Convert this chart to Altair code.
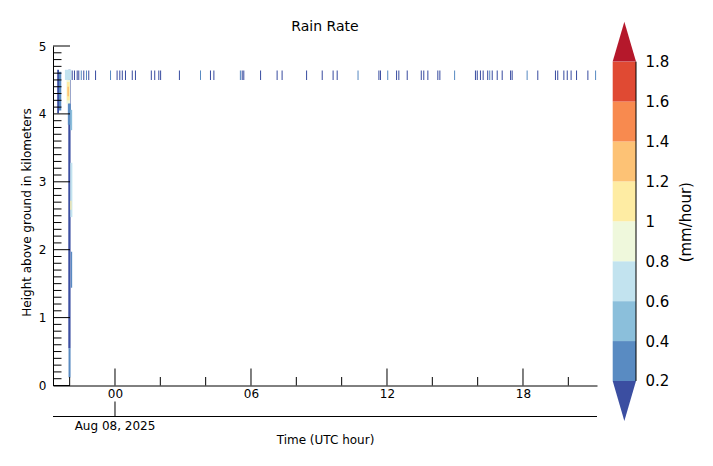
import altair as alt
import pandas as pd

# ---------------- data ----------------
bin_edges = [0.2, 0.4, 0.6, 0.8, 1.0, 1.2, 1.4, 1.6, 1.8]
bin_colors = ["#3b4ea1", "#598bc2", "#8bbfdb", "#c2e3ef", "#eff8dc",
              "#feeca3", "#fdc275", "#f88a4f", "#e04a33", "#b5182b"]
cbar_labels = ["0.2", "0.4", "0.6", "0.8", "1", "1.2", "1.4", "1.6", "1.8"]

x_major = [0, 6, 12, 18]
x_labels = ["00", "06", "12", "18"]
x_minor = [-2, 2, 4, 8, 10, 14, 16, 20]
y_major = [0, 1, 2, 3, 4, 5]
y_minor = [i / 10 for i in range(1, 50) if i % 10]

date_tick = [0]
date_label = ["Aug 08, 2025"]

# short rain echoes near the top of the column (hours, UTC)
tick_times = [-1.91, -1.81, -1.69, -1.62, -1.51, -1.40, -1.28, -1.18, -0.88, -0.22,
              0.07, 0.19, 0.30, 0.44, 0.74, 0.88, 1.58, 1.73, 1.91, 1.99,
              2.82, 3.75, 4.19, 4.34, 5.51, 5.59, 5.66, 6.40, 7.13, 7.35,
              8.43, 9.12, 9.60, 9.78, 10.70, 11.62, 11.69, 12.01, 12.40, 12.50,
              12.87, 13.49, 13.60, 13.78, 14.22, 14.31, 14.96, 15.88, 15.96, 16.10,
              16.22, 16.42, 16.51, 16.62, 16.84, 17.06, 17.43, 17.50, 18.16, 18.63,
              19.41, 19.51, 19.78, 19.93, 20.10, 20.34, 20.84, 21.18]
tick_rates = [0.1, 0.1, 0.1, 0.1, 0.3, 0.1, 0.3, 0.1, 0.1, 0.3,
              0.1, 0.1, 0.1, 0.1, 0.1, 0.1, 0.1, 0.1, 0.1, 0.1,
              0.1, 0.3, 0.1, 0.1, 0.3, 0.1, 0.1, 0.1, 0.1, 0.1,
              0.1, 0.1, 0.1, 0.1, 0.3, 0.1, 0.1, 0.3, 0.1, 0.1,
              0.1, 0.1, 0.1, 0.1, 0.1, 0.1, 0.3, 0.1, 0.1, 0.1,
              0.1, 0.1, 0.3, 0.1, 0.1, 0.1, 0.1, 0.1, 0.3, 0.1,
              0.1, 0.1, 0.1, 0.1, 0.1, 0.1, 0.1, 0.3]
tick_dur = [0.045] * len(tick_times)
tick_z0 = [4.50] * len(tick_times)
tick_z1 = [4.64] * len(tick_times)

# rain column cells at the start of the record
cell_t0 = [-2.55, -2.47, -2.06, -2.05, -2.21, -2.14, -2.12, -2.10, -2.08, -1.97, -1.97, -1.97, -1.95]
cell_t1 = [-2.47, -2.37, -1.96, -1.96, -1.93, -1.98, -2.00, -2.03, -1.95, -1.89, -1.88, -1.92, -1.89]
cell_z0 = [4.01, 4.05, 0.55, 0.12, 4.50, 4.15, 4.20, 4.26, 3.84, 3.76, 2.48, 2.59, 1.44]
cell_z1 = [4.65, 4.62, 4.65, 0.55, 4.65, 4.50, 4.47, 4.40, 4.15, 4.06, 3.28, 2.72, 1.97]
cell_rate = [0.1, 0.3, 0.1, 0.3, 0.7, 0.9, 1.1, 1.3, 0.3, 0.5, 0.7, 1.1, 0.3]

title_text = ["Rain Rate"]

# ---------------- tables ----------------
cells_df = pd.DataFrame({"t0": cell_t0, "t1": cell_t1, "z0": cell_z0, "z1": cell_z1, "rate": cell_rate})
ticks_df = pd.DataFrame({"t0": tick_times,
                         "t1": [t + d for t, d in zip(tick_times, tick_dur)],
                         "z0": tick_z0, "z1": tick_z1, "rate": tick_rates})

W, H = 544, 339.5
FONT = "DejaVu Sans"

xs = alt.Scale(domain=[-2.735, 21.265], nice=False, zero=False)
ys = alt.Scale(domain=[0, 5], nice=False, zero=False)

x_label_expr = "[" + ",".join(f"'{l}'" for l in x_labels) + "][indexof([" + ",".join(str(v) for v in x_major) + "], datum.value)]"
x_axis = alt.Axis(values=x_major, labelExpr=x_label_expr, tickSize=0, labelPadding=3,
                  labelFontSize=12, title="Time (UTC hour)", titleFontSize=12,
                  titleY=54, titleBaseline="middle", grid=False, domainColor="black",
                  labelFlush=False)
y_axis = alt.Axis(values=y_major, format="d", tickSize=0, labelPadding=7, labelFontSize=12,
                  title="Height above ground in kilometers", titleFontSize=12,
                  titleAngle=270, titleX=-26.3, titleY=166, titleAlign="center",
                  titleBaseline="middle", grid=False, domainColor="black", labelFlush=False)


def X(f):
    return alt.X(f, type="quantitative", scale=xs, axis=x_axis)


def Y(f):
    return alt.Y(f, type="quantitative", scale=ys, axis=y_axis)


cscale = alt.Scale(type="threshold", domain=bin_edges, range=bin_colors)
C = alt.Color("rate:Q", scale=cscale, legend=None)

cells = alt.Chart(cells_df).mark_rect(strokeWidth=0).encode(
    x=X("t0"), x2="t1", y=Y("z0"), y2="z1", color=C)
ticks = alt.Chart(ticks_df).mark_rect(strokeWidth=0).encode(
    x=X("t0"), x2="t1", y=Y("z0"), y2="z1", color=C)

xmaj = alt.Chart(pd.DataFrame({"t0": x_major})).mark_rule(color="black", strokeWidth=1).encode(
    x=X("t0"), y=alt.value(H), y2=alt.value(H - 17))
xmin = alt.Chart(pd.DataFrame({"t0": x_minor})).mark_rule(color="black", strokeWidth=1).encode(
    x=X("t0"), y=alt.value(H), y2=alt.value(H - 8.5))
ymaj = alt.Chart(pd.DataFrame({"z0": y_major})).mark_rule(color="black", strokeWidth=1).encode(
    y=Y("z0"), x=alt.value(0), x2=alt.value(17))
ymin = alt.Chart(pd.DataFrame({"z0": y_minor})).mark_rule(color="black", strokeWidth=1).encode(
    y=Y("z0"), x=alt.value(0), x2=alt.value(8.5))

date_df = pd.DataFrame({"t0": date_tick, "label": date_label})
date_line = alt.Chart(date_df).mark_rule(color="black", strokeWidth=1).encode(
    x=alt.value(0), x2=alt.value(W), y=alt.value(H + 31))
date_tk = alt.Chart(date_df).mark_rule(color="black", strokeWidth=1).encode(
    x=X("t0"), y=alt.value(H + 31), y2=alt.value(H + 16))
date_txt = alt.Chart(date_df).mark_text(fontSize=12, font=FONT, baseline="middle", align="center",
                                        color="black").encode(
    x=X("t0"), y=alt.value(H + 40.5), text="label:N")

title = alt.Chart(pd.DataFrame({"title": title_text})).mark_text(
    fontSize=14, font=FONT, baseline="middle", align="center", color="black").encode(
    x=alt.value(W / 2), y=alt.value(-19), text="title:N")

main = alt.layer(cells, ticks, xmaj, xmin, ymaj, ymin, date_line, date_tk, date_txt, title)

# ---------------- colour bar ----------------
cxs = alt.Scale(domain=[0, 1], range=[559.7, 583], nice=False, zero=False)
cys = alt.Scale(domain=[0, 2], range=[374.9, -24.3], nice=False, zero=False)
cb_label_expr = "[" + ",".join(f"'{l}'" for l in cbar_labels) + "][round((datum.value - 0.2) / 0.2)]"
cb_axis = alt.Axis(values=bin_edges, orient="right", offset=39, domain=False, ticks=False, tickSize=0,
                   labelPadding=9, labelFontSize=15, labelExpr=cb_label_expr,
                   title="(mm/hour)", titleFontSize=15, titleAngle=270, titleX=49.5, titleY=175.7,
                   titleAlign="center", titleBaseline="middle", grid=False, labelFlush=False,
                   labelOverlap=False)

cb_df = pd.DataFrame({"cx0": [0] * 8, "cx1": [1] * 8,
                      "lo": bin_edges[:-1], "hi": bin_edges[1:],
                      "rate": [(a + b) / 2 for a, b in zip(bin_edges[:-1], bin_edges[1:])]})
cb_rects = alt.Chart(cb_df).mark_rect(strokeWidth=0).encode(
    x=alt.X("cx0:Q", scale=cxs, axis=None), x2="cx1",
    y=alt.Y("lo:Q", scale=cys, axis=cb_axis), y2="hi", color=C)

tri_hi = pd.DataFrame({"cx0": [0, 0.5, 1], "lo": [1.8, 2.0, 1.8], "hi": [1.8, 1.8, 1.8]})
tri_lo = pd.DataFrame({"cx0": [0, 0.5, 1], "lo": [0.2, 0.0, 0.2], "hi": [0.2, 0.2, 0.2]})
cb_tri_hi = alt.Chart(tri_hi).mark_area(color=bin_colors[-1], strokeWidth=0).encode(
    x=alt.X("cx0:Q", scale=cxs, axis=None),
    y=alt.Y("lo:Q", scale=cys, axis=cb_axis), y2="hi")
cb_tri_lo = alt.Chart(tri_lo).mark_area(color=bin_colors[0], strokeWidth=0).encode(
    x=alt.X("cx0:Q", scale=cxs, axis=None),
    y=alt.Y("lo:Q", scale=cys, axis=cb_axis), y2="hi")
cb_line = alt.Chart(pd.DataFrame({"cx0": [1], "lo": [bin_edges[0]], "hi": [bin_edges[-1]]})).mark_rule(
    color="black", strokeWidth=1).encode(
    x=alt.X("cx0:Q", scale=cxs, axis=None),
    y=alt.Y("lo:Q", scale=cys, axis=cb_axis), y2="hi")

cbar = alt.layer(cb_rects, cb_tri_hi, cb_tri_lo, cb_line)

chart = alt.layer(main, cbar).resolve_scale(x="independent", y="independent").properties(
    width=W, height=H,
    autosize=alt.AutoSizeParams(type="none"),
    padding={"left": 45, "top": 38, "right": 108, "bottom": 72},
    background="white",
).configure(font=FONT).configure_view(stroke=None).configure_axis(
    labelColor="black", titleColor="black", titleFontWeight="normal",
    labelFont=FONT, titleFont=FONT)

chart.save("out.html", embed_options={"renderer": "svg", "actions": False})
